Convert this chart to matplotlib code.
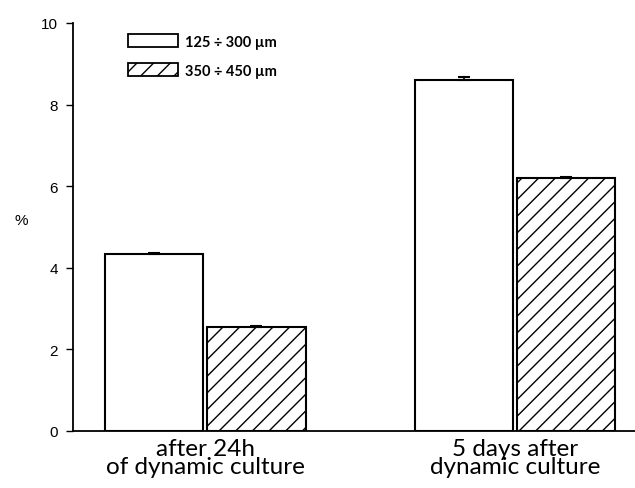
import numpy as np
import matplotlib
matplotlib.use('Agg')
import matplotlib.pyplot as plt
from matplotlib.patches import Patch

plt.close('all')

groups = ['after 24h\nof dynamic culture', '5 days after\ndynamic culture']
series = ['125 ÷ 300 µm', '350 ÷ 450 µm']
small = [4.33, 8.60]
small_err = [0.03, 0.08]
large = [2.55, 6.20]
large_err = [0.03, 0.03]

fig = plt.figure(figsize=(6.35, 4.89), dpi=100)
ax = fig.add_axes([0.115, 0.1166, 0.885, 0.8344])

x = np.arange(len(groups))
w = 0.318
ekw = dict(ecolor='black', elinewidth=1.2, capsize=4, capthick=1.5)
ax.bar(x - 0.165, small, w, yerr=[[0, 0], small_err], color='white', edgecolor='black',
       linewidth=1.5, error_kw=ekw)
ax.bar(x + 0.165, large, w, yerr=[[0, 0], large_err], color='white', edgecolor='black',
       hatch='//', linewidth=1.5, error_kw=ekw)

ax.set_xlim(-0.426, 1.387)
ax.set_ylim(0, 10)
ax.set_yticks([0, 2, 4, 6, 8, 10])
ax.spines['top'].set_visible(False)
ax.spines['right'].set_visible(False)
ax.spines['left'].set_linewidth(1.3)
ax.spines['bottom'].set_linewidth(1.3)
ax.tick_params(axis='y', direction='out', length=5, width=1, labelsize=11, pad=6)
for t in ax.get_yticklabels():
    t.set_family('Liberation Sans')
ax.set_xticks(x)
ax.set_xticklabels(groups, family='Lato', fontsize=17.5, linespacing=0.82)
ax.tick_params(axis='x', length=0, pad=5)

ax.set_ylabel('%', rotation=0, family='Liberation Sans', fontsize=11, labelpad=14)

handles = [Patch(facecolor='white', edgecolor='black', linewidth=1.3, label=series[0]),
           Patch(facecolor='white', edgecolor='black', hatch='//', linewidth=1.3, label=series[1])]
ax.legend(handles=handles, loc='upper left', bbox_to_anchor=(0.075, 1.005), frameon=False,
          prop={'family': 'Lato', 'size': 10.5, 'weight': 'bold'},
          handlelength=3.4, handleheight=1.0, labelspacing=1.0, handletextpad=0.5)

plt.savefig('out.png', dpi=100)
plt.close()
